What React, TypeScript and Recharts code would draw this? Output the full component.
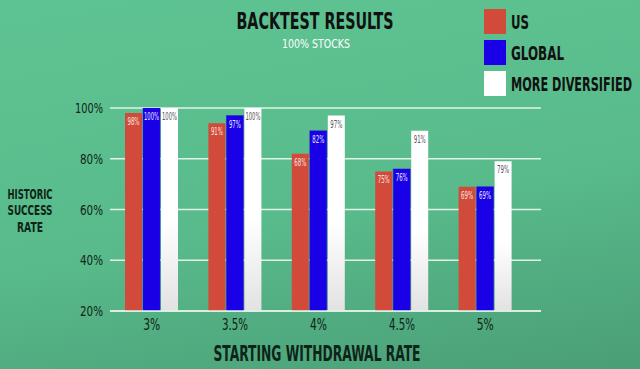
import { Bar, BarChart, CartesianGrid, Customized, LabelList, XAxis, YAxis } from 'recharts'

const categories = ['3%', '3.5%', '4%', '4.5%', '5%']
const usValues = [98, 94, 82, 75, 69]
const globalValues = [100, 97, 91, 76, 69]
const diversifiedValues = [100, 100, 97, 91, 79]
// labels printed inside the bars (as shown, even where they differ from bar height)
const usLabels = ['98%', '91%', '68%', '75%', '69%']
const globalLabels = ['100%', '97%', '82%', '76%', '69%']
const diversifiedLabels = ['100%', '100%', '97%', '91%', '79%']
const yTicks = [20, 40, 60, 80, 100]

const seriesNames = ['US', 'GLOBAL', 'MORE DIVERSIFIED']

const FONT = "'Liberation Sans Narrow', 'DejaVu Sans Condensed', Roboto, sans-serif"
const RED = '#d24b3a'
const BLUE = '#1a00e6'
const DARK = '#0e2418'

const data = categories.map((c, i) => ({
  name: c,
  us: usValues[i],
  global: globalValues[i],
  diversified: diversifiedValues[i],
  usLabel: usLabels[i],
  globalLabel: globalLabels[i],
  diversifiedLabel: diversifiedLabels[i],
}))

// condensed text: stretch glyphs to the measured width
function CText({ x, y, w, size, fill = DARK, anchor = 'middle', weight = 'normal', children }: any) {
  return (
    <text
      x={x}
      y={y}
      fontSize={size}
      fill={fill}
      fontFamily={FONT}
      fontWeight={weight}
      textAnchor={anchor}
      textLength={w}
      lengthAdjust="spacingAndGlyphs"
    >
      {children}
    </text>
  )
}

const YTick = ({ x, y, payload }: any) => (
  <CText x={x} y={y + 5} w={payload.value === 100 ? 28 : 23} size={14} anchor="end">
    {payload.value + '%'}
  </CText>
)

const XTick = ({ x, y, payload }: any) => (
  <CText x={x} y={y + 11} w={payload.value.length > 2 ? 26 : 17} size={15}>
    {payload.value}
  </CText>
)

const barLabel = (color: string) => (props: any) => {
  const { x, y, width, value } = props
  const txt = String(value)
  return (
    <CText x={x + width / 2} y={y + 12} w={txt.length > 3 ? 15 : 12} size={10} fill={color}>
      {txt}
    </CText>
  )
}

// legend + titles drawn in the chart svg
const Decorations = () => {
  const colors = [RED, BLUE, '#ffffff']
  const widths = [18, 53, 121]
  return (
    <g>
      <defs>
        <linearGradient id="whiteBar" x1="0" y1="0" x2="0" y2="1">
          <stop offset="0%" stopColor="#ffffff" />
          <stop offset="55%" stopColor="#ffffff" />
          <stop offset="100%" stopColor="#e2e2e2" />
        </linearGradient>
      </defs>
      <CText x={315} y={29} w={157} size={23} fill="#111" weight="bold">BACKTEST RESULTS</CText>
      <CText x={316} y={48} w={68} size={13} fill="#ffffff">100% STOCKS</CText>
      {seriesNames.map((n, i) => (
        <g key={n}>
          <rect x={484} y={9 + i * 31} width={22} height={25} fill={colors[i]} />
          <CText x={511} y={29 + i * 31} w={widths[i]} size={19} fill="#111" anchor="start" weight="bold">
            {n}
          </CText>
        </g>
      ))}
      <CText x={30} y={199} w={45} size={14} weight="bold">HISTORIC</CText>
      <CText x={30} y={215} w={45} size={14} weight="bold">SUCCESS</CText>
      <CText x={30} y={232} w={26} size={14} weight="bold">RATE</CText>
      <CText x={317} y={361} w={207} size={22} weight="bold">STARTING WITHDRAWAL RATE</CText>
    </g>
  )
}

export default function App() {
  return (
    <div
      style={{
        position: 'absolute',
        left: 0,
        top: 0,
        width: 640,
        height: 369,
        background: 'linear-gradient(170deg, #5ec392 0%, #59bb8b 55%, #4a9e77 100%)',
      }}
    >
      <BarChart
        width={640}
        height={369}
        data={data}
        margin={{ top: 108, right: 99, bottom: 28, left: 0 }}
        barSize={17}
        barGap={1}
      >
        <CartesianGrid vertical={false} stroke="#e2f3e9" strokeWidth={1.5} />
        <XAxis
          dataKey="name"
          height={30}
          tick={<XTick />}
          tickLine={false}
          tickSize={5}
          tickMargin={3}
          axisLine={{ stroke: '#e2f3e9', strokeWidth: 1.5 }}
          padding={{ left: 0, right: 14 }}
        />
        <YAxis
          width={110}
          domain={[20, 100]}
          ticks={yTicks}
          allowDataOverflow
          tick={<YTick />}
          tickLine={false}
          axisLine={false}
          tickSize={5}
          tickMargin={2}
        />
        <Bar dataKey="us" name="US" fill={RED} isAnimationActive={false}>
          <LabelList dataKey="usLabel" content={barLabel('#f6e4e0')} />
        </Bar>
        <Bar dataKey="global" name="GLOBAL" fill={BLUE} stroke="#2a1ad0" strokeWidth={0.5} isAnimationActive={false}>
          <LabelList dataKey="globalLabel" content={barLabel('#e8e6ff')} />
        </Bar>
        <Bar dataKey="diversified" name="MORE DIVERSIFIED" fill="url(#whiteBar)" isAnimationActive={false}>
          <LabelList dataKey="diversifiedLabel" content={barLabel('#555555')} />
        </Bar>
        <Customized component={<Decorations />} />
      </BarChart>
    </div>
  )
}
